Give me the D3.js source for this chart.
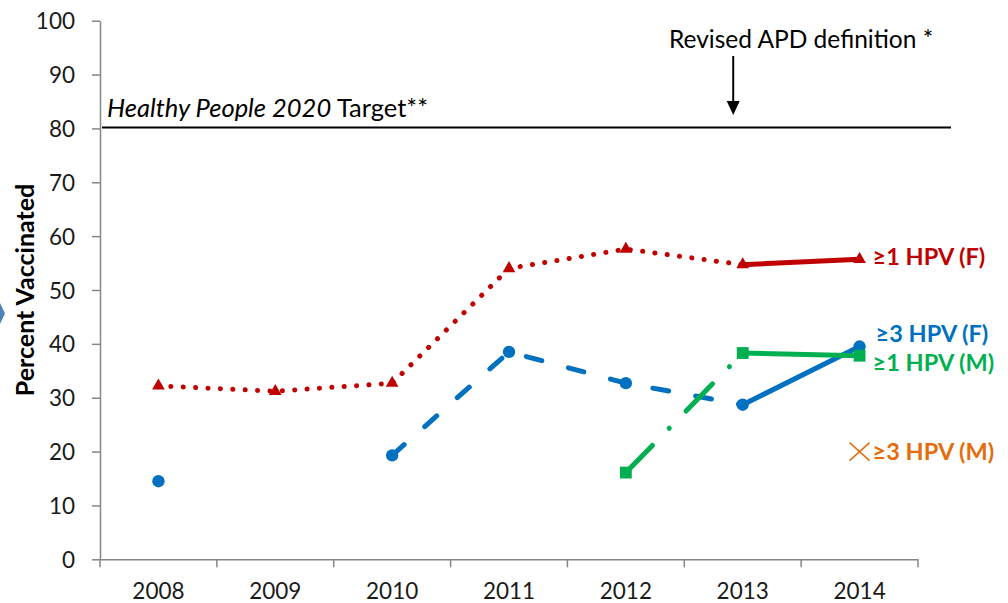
<!doctype html>
<html>
<head>
<meta charset="utf-8">
<script src="https://cdn.jsdelivr.net/npm/d3@7"></script>
<style>
  body {margin: 0; background: #fff;}
  svg {display: block; font-family: Lato, "Open Sans", sans-serif;}
</style>
</head>
<body>
<svg width="1008" height="603"></svg>
<script>
// values
var years = ["2008", "2009", "2010", "2011", "2012", "2013", "2014"];
var yTicks = [0, 10, 20, 30, 40, 50, 60, 70, 80, 90, 100];
var f1 = [32.2, 31.2, 32.7, 54.0, 57.6, 54.7, 55.7];   // >=1 HPV (F)
var f3 = [14.5, null, 19.3, 38.5, 32.7, 28.7, 39.5];   // >=3 HPV (F)
var m1 = [null, null, null, null, 16.1, 38.3, 37.8];   // >=1 HPV (M)
var target = 80;
var revisedYear = "2013";

var svg = d3.select("svg");
var x = d3.scaleBand().domain(years).range([100, 918]);
var y = d3.scaleLinear().domain([0, 100]).range([559.3, 20.7]);
var cx = function(yr) { return x(yr) + x.bandwidth() / 2; };

var red = "#C00000", blue = "#0070C0", green = "#00B050", orange = "#E46C0A", axisGray = "#868686";

// little chevron cut off at the left edge
svg.append("path").attr("d", "M0,303 L5,313.5 L0,324 Z").attr("fill", "#4F81BD");

// y axis
var yAxis = svg.append("g")
    .attr("transform", "translate(100,0)")
    .call(d3.axisLeft(y).tickValues(yTicks).tickSize(8).tickSizeOuter(0).tickPadding(17));
yAxis.select(".domain").attr("stroke", axisGray).attr("stroke-width", 1.5);
yAxis.selectAll(".tick line").attr("stroke", axisGray).attr("stroke-width", 1.5);
yAxis.selectAll(".tick text").attr("font-size", 22.5).attr("fill", "#1a1a1a")
    .attr("font-family", "Lato, sans-serif").attr("dy", "0.36em");

// x axis: labels at band centres, ticks at band edges
var xAxis = svg.append("g")
    .attr("transform", "translate(0,559.3)")
    .call(d3.axisBottom(x).tickSize(0).tickSizeOuter(0).tickPadding(24));
xAxis.select(".domain").attr("stroke", axisGray).attr("stroke-width", 1.5);
xAxis.selectAll(".tick text").attr("font-size", 22.5).attr("fill", "#1a1a1a")
    .attr("font-family", "Lato, sans-serif");
var edges = years.map(function(d) { return x(d); }).concat([x.range()[1]]);
xAxis.selectAll(".edge").data(edges).enter().append("line")
    .attr("x1", function(d) { return d; }).attr("x2", function(d) { return d; })
    .attr("y1", 0).attr("y2", 8)
    .attr("stroke", axisGray).attr("stroke-width", 1.5);

// y title
svg.append("text")
    .attr("transform", "translate(34," + y(50) + ") rotate(-90)")
    .attr("text-anchor", "middle")
    .attr("font-size", 25).attr("font-weight", "bold").attr("fill", "#000")
    .text("Percent Vaccinated");

// target line
svg.append("line")
    .attr("x1", 102).attr("x2", 951)
    .attr("y1", y(target) - 1).attr("y2", y(target) - 1)
    .attr("stroke", "#000").attr("stroke-width", 2);
var tgt = svg.append("text").attr("x", 107).attr("y", y(target) - 11)
    .attr("font-size", 25.5).attr("fill", "#000");
tgt.append("tspan").attr("font-style", "italic").text("Healthy People 2020");
tgt.append("tspan").text(" Target**");

// revised definition arrow
var ax = cx(revisedYear) - 9.5;
svg.append("text").attr("x", 801).attr("y", 48)
    .attr("text-anchor", "middle").attr("font-size", 24.5).attr("fill", "#000")
    .text("Revised APD definition *");
svg.append("line").attr("x1", ax).attr("x2", ax).attr("y1", 56).attr("y2", 104)
    .attr("stroke", "#000").attr("stroke-width", 2);
svg.append("path")
    .attr("d", "M" + (ax - 6.5) + ",101 L" + (ax + 6.5) + ",101 L" + ax + ",115 Z")
    .attr("fill", "#000");

// helpers
function pts(vals, from, to) {
  var out = [];
  for (var i = from; i <= to; i++) if (vals[i] != null) out.push([cx(years[i]), y(vals[i])]);
  return out;
}
function seg(vals, from, to, color, dash) {
  svg.append("path")
      .attr("d", d3.line()(pts(vals, from, to)))
      .attr("fill", "none").attr("stroke", color)
      .attr("stroke-width", 5)
      .attr("stroke-linecap", "round").attr("stroke-linejoin", "round")
      .attr("stroke-dasharray", dash);
}
function markers(vals, color, type, size) {
  svg.append("g").selectAll("path")
    .data(years.map(function(d, i) { return {yr: d, v: vals[i]}; }).filter(function(d) { return d.v != null; }))
    .enter().append("path")
      .attr("transform", function(d) { return "translate(" + cx(d.yr) + "," + y(d.v) + ")"; })
      .attr("d", d3.symbol().type(type).size(size))
      .attr("fill", color);
}

// >=1 HPV (F)
seg(f1, 0, 5, red, "0.1 12.3");
seg(f1, 5, 6, red, null);
markers(f1, red, d3.symbolTriangle, 70);

// >=3 HPV (F)
seg(f3, 2, 5, blue, "16 27.5");
seg(f3, 5, 6, blue, null);
markers(f3, blue, d3.symbolCircle, 120);

// >=1 HPV (M)
seg(m1, 4, 5, green, "38 24 0.1 24");
seg(m1, 5, 6, green, null);
markers(m1, green, d3.symbolSquare, 140);

// series labels
var labels = [
  {name: "\u22651 HPV (F)", color: red, dx: 13, v: 54.6},
  {name: "\u22653 HPV (F)", color: blue, dx: 16, v: 40.4},
  {name: "\u22651 HPV (M)", color: green, dx: 13, v: 34.9},
  {name: "\u22653 HPV (M)", color: orange, dx: 13, v: 18.5}
];
svg.append("g").selectAll("text").data(labels).enter().append("text")
    .attr("x", function(d) { return cx("2014") + d.dx; })
    .attr("y", function(d) { return y(d.v); })
    .attr("font-size", 23.5).attr("font-weight", "bold")
    .attr("fill", function(d) { return d.color; })
    .text(function(d) { return d.name; });

// orange x marker (series with no points)
var mx = cx("2014"), my = y(20.0);
svg.append("path")
    .attr("d", "M" + (mx - 10) + "," + (my - 9) + " L" + (mx + 10) + "," + (my + 9) +
               " M" + (mx - 10) + "," + (my + 9) + " L" + (mx + 10) + "," + (my - 9))
    .attr("stroke", orange).attr("stroke-width", 1.5).attr("fill", "none");
</script>
</body>
</html>
